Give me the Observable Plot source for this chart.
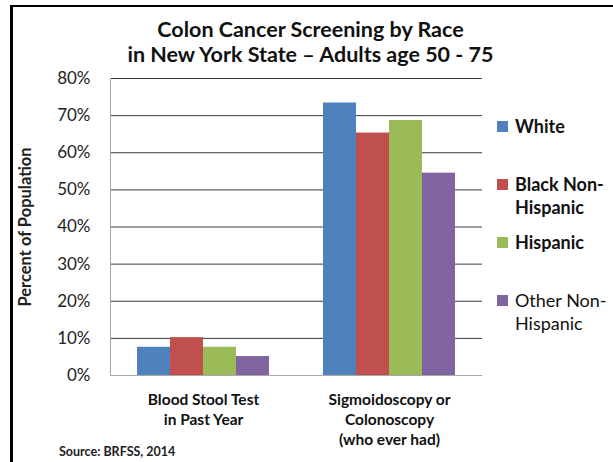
<!DOCTYPE html>
<html>
<head>
<meta charset="utf-8">
<script src="https://cdn.jsdelivr.net/npm/d3@7"></script>
<script src="https://cdn.jsdelivr.net/npm/@observablehq/plot@0.6"></script>
<style>
  html, body { margin: 0; padding: 0; background: #fff; }
  body { font-family: Lato, "Open Sans", sans-serif; color: #111; }
  #wrap { position: relative; width: 613px; height: 462px; overflow: hidden; background: #fff; }
  #bg, #fg { position: absolute; left: 0; top: 0; }
  .border-left { position: absolute; left: 10px; top: 5px; width: 3px; height: 457px; background: #000; }
  .border-top { position: absolute; left: 10px; top: 5px; width: 603px; height: 2px; background: #000; }
  .title { position: absolute; left: 4px; top: 17px; width: 613px; text-align: center;
           font-weight: bold; font-size: 21.5px; line-height: 25px; color: #111; }
  .legend { position: absolute; left: 497px; top: 115px; }
  .legend .item { position: relative; height: 58px; }
  .legend .sw { position: absolute; left: 0; top: 6px; width: 11px; height: 11px; }
  .legend .lab { position: absolute; left: 18px; top: 0; font-size: 18px; line-height: 23px; font-weight: bold; color: #111; white-space: nowrap; }
  .source { position: absolute; left: 59px; top: 444px; font-size: 12.5px; font-weight: bold; color: #222; }
  #bg [aria-label="y-axis label"] text, #bg g[aria-label="y-axis label"] { font-weight: bold; font-size: 16.5px; }
</style>
</head>
<body>
<div id="wrap">
  <div id="bg"></div>
  <div id="fg"></div>
  <div class="border-left"></div>
  <div class="border-top"></div>
  <div class="title">Colon Cancer Screening by Race<br>in New York State – Adults age 50 - 75</div>
  <div class="legend" id="legend"></div>
  <div class="source">Source: BRFSS, 2014</div>
</div>
<script>
// ---- data ----
const tests = ["Blood Stool Test\nin Past Year", "Sigmoidoscopy or\nColonoscopy\n(who ever had)"];
const races = ["White", "Black Non-Hispanic", "Hispanic", "Other Non-Hispanic"];
const legendLabels = ["White", "Black Non-\nHispanic", "Hispanic", "Other Non-\nHispanic"];
const bloodStool = [7.6, 10.2, 7.6, 5.1];
const sigmoidColon = [73.4, 65.3, 68.7, 54.5];
const yTicks = [0, 10, 20, 30, 40, 50, 60, 70, 80];
const colors = ["#4F81BD", "#C0504D", "#9BBB59", "#8064A2"];

const data = [];
races.forEach((r, i) => {
  data.push({test: tests[0], race: r, value: bloodStool[i]});
  data.push({test: tests[1], race: r, value: sigmoidColon[i]});
});

const W = 613, H = 462;
const M = {left: 110, right: 131, top: 78, bottom: 87};
const font = "Lato, 'Open Sans', sans-serif";

// background: gridlines, y axis
const bg = Plot.plot({
  width: W, height: H,
  marginLeft: M.left, marginRight: M.right, marginTop: M.top, marginBottom: M.bottom,
  style: {fontFamily: font, fontSize: "17px", color: "#222", background: "transparent", overflow: "visible"},
  y: {domain: [0, 80]},
  marks: [
    Plot.ruleY(yTicks.filter(t => t > 0), {stroke: "#3a3a3a", strokeWidth: 1}),
    Plot.ruleY([0], {stroke: "#a8a8a8", strokeWidth: 1}),
    Plot.frame({anchor: "left", stroke: "#a8a8a8"}),
    Plot.axisY({ticks: yTicks, tickFormat: d => d + "%", tickSize: 0, tickPadding: 20,
                label: "Percent of Population", labelAnchor: "center", labelOffset: 91, labelArrow: "none"})
  ]
});
document.getElementById("bg").appendChild(bg);

// foreground: bars and category labels
const fg = Plot.plot({
  width: W, height: H,
  marginLeft: M.left, marginRight: M.right, marginTop: M.top, marginBottom: M.bottom,
  style: {fontFamily: font, fontSize: "15.5px", color: "#111", background: "transparent", overflow: "visible"},
  fx: {domain: tests, paddingInner: 0.278, paddingOuter: 0.134, axis: null, label: null},
  x: {domain: races, padding: 0, axis: null},
  y: {domain: [0, 80], axis: null},
  color: {domain: races, range: colors},
  marks: [
    Plot.barY(data, {fx: "test", x: "race", y: "value", fill: "race"}),
    Plot.text(tests, {fx: d => d, text: d => d, frameAnchor: "bottom", lineAnchor: "top", dy: 15,
                      lineHeight: 1.29, fontWeight: "bold", fontSize: 15.5, fill: "#111"})
  ]
});
document.getElementById("fg").appendChild(fg);

// legend
const leg = document.getElementById("legend");
races.forEach((r, i) => {
  const item = document.createElement("div");
  item.className = "item";
  const sw = document.createElement("div");
  sw.className = "sw";
  sw.style.background = colors[i];
  const lab = document.createElement("div");
  lab.className = "lab";
  lab.innerHTML = legendLabels[i].replace("\n", "<br>");
  if (i === 3) lab.style.fontWeight = "normal";
  item.appendChild(sw); item.appendChild(lab);
  leg.appendChild(item);
});
</script>
</body>
</html>
